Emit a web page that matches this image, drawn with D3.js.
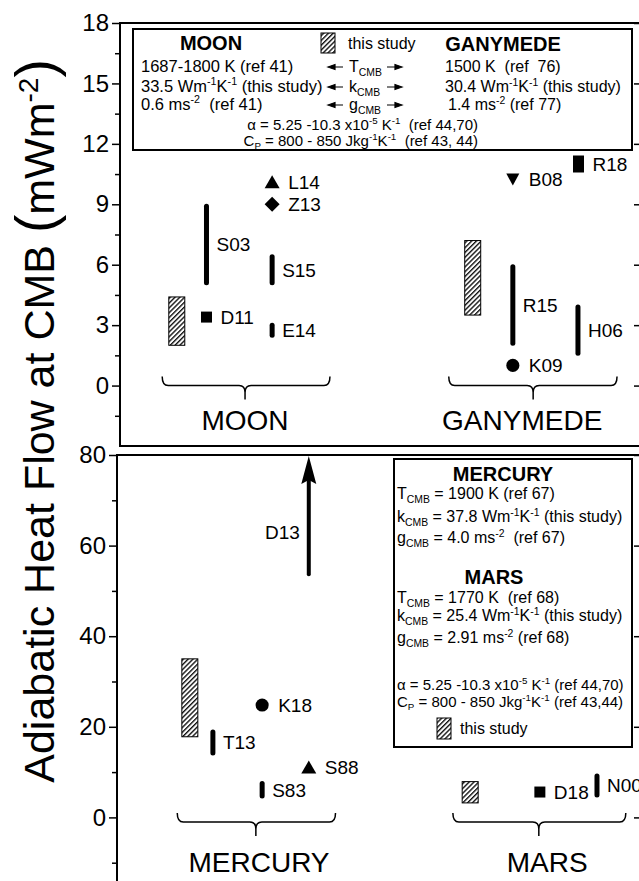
<!DOCTYPE html>
<html>
<head>
<meta charset="utf-8">
<script src="https://cdn.jsdelivr.net/npm/d3@7"></script>
<style>
body { margin: 0; background: #fff; }
svg text { font-family: "Liberation Sans", Arial, sans-serif; fill: #000; white-space: pre; }
</style>
</head>
<body>
<svg id="chart"></svg>
<script>
// Adiabatic heat flow at the CMB, two stacked panels
// x is in plot units (0-10 across each panel), y in mW/m^2

var topBodies = ["MOON", "GANYMEDE"];
var botBodies = ["MERCURY", "MARS"];

// hatched ranges (this study)
var studyBody = ["MOON", "GANYMEDE", "MERCURY", "MARS"];
var studyX    = [1.09, 6.77, 1.39, 6.74];
var studyLow  = [2.0, 3.5, 17.8, 3.2];
var studyHigh = [4.4, 7.2, 35.0, 7.9];

// published ranges, thick bars
var rangeRef  = ["S03", "S15", "E14", "R15", "H06", "T13", "S83", "N00"];
var rangeBody = ["MOON", "MOON", "MOON", "GANYMEDE", "GANYMEDE", "MERCURY", "MERCURY", "MARS"];
var rangeX    = [1.66, 2.92, 2.92, 7.54, 8.79, 1.83, 2.77, 9.16];
var rangeLow  = [5.0, 5.0, 2.4, 2.0, 1.5, 13.8, 4.3, 4.5];
var rangeHigh = [9.0, 6.5, 3.1, 6.0, 4.0, 19.3, 7.9, 9.6];

// single published values
var pointRef    = ["D11", "L14", "Z13", "K09", "B08", "R18", "K18", "S88", "D18"];
var pointBody   = ["MOON", "MOON", "MOON", "GANYMEDE", "GANYMEDE", "GANYMEDE", "MERCURY", "MERCURY", "MARS"];
var pointX      = [1.66, 2.92, 2.92, 7.54, 7.54, 8.80, 2.77, 3.66, 8.07];
var pointValue  = [3.4, 10.1, 9.0, 1.0, 10.25, 11.0, 24.8, 11.0, 5.6];
var pointSymbol = ["square", "triangle", "diamond", "circle", "triangleDown", "block", "circle", "triangle", "square"];

// lower bound only (arrow going off the top)
var boundRef  = ["D13"];
var boundBody = ["MERCURY"];
var boundX    = [3.66];
var boundLow  = [53.7];
var boundLabelY = [63];

// group braces + names
var braceBody  = ["MOON", "GANYMEDE", "MERCURY", "MARS"];
var braceFrom  = [0.81, 6.31, 1.15, 6.41];
var braceTo    = [4.03, 9.54, 4.17, 9.71];
var braceMid   = [2.40, 7.93, 2.65, 8.05];
var braceLevel = [0, 0, -1, -1];
var nameX      = [2.40, 7.72, 2.71, 8.21];
var nameY      = [-2.2, -2.2, -12, -12];

// ticks
var topTicks = [0, 3, 6, 9, 12, 15, 18];
var topMinor = [-1.5, 1.5, 4.5, 7.5, 10.5, 13.5, 16.5];
var botTicks = [0, 20, 40, 60, 80];
var botMinor = [-10, 10, 30, 50, 70];

// legend texts
var moonInfo = ["1687-1800 K (ref 41)", "33.5 Wm^{-1}K^{-1} (this study)", "0.6 ms^{-2}  (ref 41)"];
var ganyInfo = ["1500 K  (ref  76)", "30.4 Wm^{-1}K^{-1} (this study)", "1.4 ms^{-2} (ref 77)"];
var cmbNames = ["T_{CMB}", "k_{CMB}", "g_{CMB}"];
var topMaterial = ["α = 5.25 -10.3 x10^{-5} K^{-1}  (ref 44,70)", "C_{P} = 800 - 850 Jkg^{-1}K^{-1}  (ref 43, 44)"];
var mercuryInfo = ["T_{CMB} = 1900 K (ref 67)", "k_{CMB} = 37.8 Wm^{-1}K^{-1} (this study)", "g_{CMB} = 4.0 ms^{-2}  (ref 67)"];
var marsInfo = ["T_{CMB} = 1770 K  (ref 68)", "k_{CMB} = 25.4 Wm^{-1}K^{-1} (this study)", "g_{CMB} = 2.91 ms^{-2} (ref 68)"];
var botMaterial = ["α = 5.25 -10.3 x10^{-5} K^{-1} (ref 44,70)", "C_{P} = 800 - 850 Jkg^{-1}K^{-1} (ref 43,44)"];

var W = 639, H = 881;

var panels = [
    {bodies: topBodies, left: 120, right: 641, top: 23, bottom: 446, domain: [-3, 18], ticks: topTicks, minor: topMinor},
    {bodies: botBodies, left: 117, right: 641, top: 455, bottom: 908, domain: [-20, 80], ticks: botTicks, minor: botMinor}
];

var svg = d3.select("#chart").attr("width", W).attr("height", H);
svg.append("rect").attr("width", W).attr("height", H).attr("fill", "#fff");

var pat = svg.append("defs").append("pattern")
    .attr("id", "hatch")
    .attr("patternUnits", "userSpaceOnUse")
    .attr("width", 3.4).attr("height", 3.4)
    .attr("patternTransform", "rotate(45)");
pat.append("rect").attr("width", 3.4).attr("height", 3.4).attr("fill", "#fff");
pat.append("line").attr("x1", 0.7).attr("y1", 0).attr("x2", 0.7).attr("y2", 3.4)
    .attr("stroke", "#000").attr("stroke-width", 1.3);

// text with _{sub} and ^{sup}
function rich(textSel, str, fs) {
    var re = /([_^])\{([^}]*)\}/g, pos = 0, m, off = 0;
    textSel.style("font-size", fs + "px");
    function add(t, shift, small) {
        var ts = textSel.append("tspan").text(t);
        if (shift !== off) { ts.attr("dy", shift - off); off = shift; }
        if (small) ts.style("font-size", (fs * 0.65) + "px");
    }
    while ((m = re.exec(str)) !== null) {
        if (m.index > pos) add(str.slice(pos, m.index), 0, false);
        add(m[2], m[1] === "_" ? fs * 0.22 : -fs * 0.4, true);
        pos = re.lastIndex;
    }
    if (pos < str.length) add(str.slice(pos), 0, false);
}

function symbolPath(type) {
    if (type == "square") return "M-5.5,-5.5h11v11h-11z";
    if (type == "triangle") return "M0,-7L7.5,6H-7.5Z";
    if (type == "triangleDown") return "M0,6.5L6.5,-5.5H-6.5Z";
    if (type == "diamond") return "M0,-7.5L7.5,0L0,7.5L-7.5,0Z";
    if (type == "block") return "M-5.5,-8.5h11v17h-11z";
    return d3.symbol().type(d3.symbolCircle).size(135)();
}

function braceD(x0, x1, xm, y) {
    return "M" + x0 + "," + (y - 9) + " Q" + x0 + "," + y + " " + (x0 + 6) + "," + y +
        " L" + (xm - 6) + "," + y + " Q" + xm + "," + y + " " + xm + "," + (y + 7) +
        " L" + xm + "," + (y + 14) +
        " M" + xm + "," + (y + 7) + " Q" + xm + "," + y + " " + (xm + 6) + "," + y +
        " L" + (x1 - 6) + "," + y + " Q" + x1 + "," + y + " " + x1 + "," + (y - 9);
}

function idx(arr, bodies) {
    var out = [];
    arr.forEach(function(b, i) { if (bodies.indexOf(b) >= 0) out.push(i); });
    return out;
}

panels.forEach(function(p) {
    var x = d3.scaleLinear().domain([0, 10]).range([p.left, p.right]);
    var y = d3.scaleLinear().domain(p.domain).range([p.bottom, p.top]);
    var g = svg.append("g");

    // frame
    g.append("rect")
        .attr("x", p.left).attr("y", p.top)
        .attr("width", p.right - p.left).attr("height", p.bottom - p.top)
        .attr("fill", "none").attr("stroke", "#000").attr("stroke-width", 2);

    // left axis: minor then major
    var minorAx = g.append("g").attr("transform", "translate(" + p.left + ",0)")
        .call(d3.axisLeft(y).tickValues(p.minor).tickSize(5).tickFormat(""));
    var majorAx = g.append("g").attr("transform", "translate(" + p.left + ",0)")
        .call(d3.axisLeft(y).tickValues(p.ticks).tickSize(8).tickPadding(3));
    [minorAx, majorAx].forEach(function(a) {
        a.select(".domain").remove();
        a.selectAll("line").attr("stroke-width", 1.5);
    });
    majorAx.selectAll("text").style("font-size", "24px").attr("font-family", null);

    // right axis, inward major ticks
    var rightAx = g.append("g").attr("transform", "translate(" + p.right + ",0)")
        .call(d3.axisLeft(y).tickValues(p.ticks).tickSize(7).tickFormat(""));
    rightAx.select(".domain").remove();
    rightAx.selectAll("line").attr("stroke-width", 1.5);

    // braces + body names
    idx(braceBody, p.bodies).forEach(function(i) {
        g.append("path")
            .attr("d", braceD(x(braceFrom[i]), x(braceTo[i]), x(braceMid[i]), y(braceLevel[i])))
            .attr("fill", "none").attr("stroke", "#000").attr("stroke-width", 1.5);
        g.append("text")
            .attr("x", x(nameX[i])).attr("y", y(nameY[i]))
            .attr("text-anchor", "middle")
            .style("font-size", "28px")
            .text(braceBody[i]);
    });

    // hatched ranges
    idx(studyBody, p.bodies).forEach(function(i) {
        g.append("rect")
            .attr("x", x(studyX[i]) - 8).attr("width", 16)
            .attr("y", y(studyHigh[i])).attr("height", y(studyLow[i]) - y(studyHigh[i]))
            .attr("fill", "url(#hatch)").attr("stroke", "#000").attr("stroke-width", 1);
    });

    // range bars
    idx(rangeBody, p.bodies).forEach(function(i) {
        g.append("line")
            .attr("x1", x(rangeX[i])).attr("x2", x(rangeX[i]))
            .attr("y1", y(rangeLow[i]) - 2).attr("y2", y(rangeHigh[i]) + 2)
            .attr("stroke", "#000").attr("stroke-width", 5).attr("stroke-linecap", "round");
        g.append("text")
            .attr("x", x(rangeX[i]) + 10)
            .attr("y", y((rangeLow[i] + rangeHigh[i]) / 2)).attr("dy", "0.36em")
            .style("font-size", "19px")
            .text(rangeRef[i]);
    });

    // single values
    idx(pointBody, p.bodies).forEach(function(i) {
        g.append("path")
            .attr("transform", "translate(" + x(pointX[i]) + "," + y(pointValue[i]) + ")")
            .attr("d", symbolPath(pointSymbol[i]))
            .attr("fill", "#000");
        g.append("text")
            .attr("x", x(pointX[i]) + (pointSymbol[i] == "square" || pointSymbol[i] == "block" ? 14 : 16))
            .attr("y", y(pointValue[i])).attr("dy", "0.36em")
            .style("font-size", "19px")
            .text(pointRef[i]);
    });

    // lower bounds with arrow
    idx(boundBody, p.bodies).forEach(function(i) {
        var bx = x(boundX[i]), top = y(p.domain[1]);
        g.append("line")
            .attr("x1", bx).attr("x2", bx)
            .attr("y1", y(boundLow[i])).attr("y2", top + 24)
            .attr("stroke", "#000").attr("stroke-width", 4).attr("stroke-linecap", "round");
        g.append("path")
            .attr("d", "M" + bx + "," + (top + 1) + "L" + (bx + 7.5) + "," + (top + 29) +
                "L" + bx + "," + (top + 25) + "L" + (bx - 7.5) + "," + (top + 29) + "Z")
            .attr("fill", "#000");
        g.append("text")
            .attr("x", bx - 9).attr("y", y(boundLabelY[i])).attr("dy", "0.36em")
            .attr("text-anchor", "end")
            .style("font-size", "19px")
            .text(boundRef[i]);
    });
});

// top legend box
var lg = svg.append("g");
lg.append("rect").attr("x", 133).attr("y", 29).attr("width", 499).attr("height", 121)
    .attr("fill", "#fff").attr("stroke", "#000").attr("stroke-width", 2);
lg.append("text").attr("x", 211).attr("y", 50).attr("text-anchor", "middle")
    .style("font-size", "20px").style("font-weight", "bold").text("MOON");
lg.append("text").attr("x", 503).attr("y", 51).attr("text-anchor", "middle")
    .style("font-size", "20px").style("font-weight", "bold").text("GANYMEDE");
lg.append("rect").attr("x", 321).attr("y", 33).attr("width", 14).attr("height", 20)
    .attr("fill", "url(#hatch)").attr("stroke", "#000").attr("stroke-width", 1);
lg.append("text").attr("x", 348).attr("y", 49).style("font-size", "16px").text("this study");
var rowY = [72, 92, 110];
moonInfo.forEach(function(s, i) {
    rich(lg.append("text").attr("x", 141).attr("y", rowY[i]), s, 16.5);
});
ganyInfo.forEach(function(s, i) {
    rich(lg.append("text").attr("x", i == 2 ? 448 : 445).attr("y", rowY[i]), s, 16);
});
cmbNames.forEach(function(s, i) {
    rich(lg.append("text").attr("x", 349).attr("y", rowY[i]), s, 16);
    var ay = rowY[i] - 5;
    lg.append("path").attr("d", "M328," + ay + "L335," + (ay - 2.5) + "L335," + (ay + 2.5) + "Z M335," + ay + "L343," + ay)
        .attr("fill", "#000").attr("stroke", "#000").attr("stroke-width", 1.2);
    lg.append("path").attr("d", "M402," + ay + "L395," + (ay - 2.5) + "L395," + (ay + 2.5) + "Z M387," + ay + "L395," + ay)
        .attr("fill", "#000").attr("stroke", "#000").attr("stroke-width", 1.2);
});
topMaterial.forEach(function(s, i) {
    rich(lg.append("text").attr("x", 478).attr("y", [130, 146][i]).attr("text-anchor", "end"), s, 15);
});

// bottom legend box
var bg = svg.append("g");
bg.append("rect").attr("x", 394).attr("y", 459).attr("width", 238).attr("height", 288)
    .attr("fill", "#fff").attr("stroke", "#000").attr("stroke-width", 2);
bg.append("text").attr("x", 503).attr("y", 481).attr("text-anchor", "middle")
    .style("font-size", "20px").style("font-weight", "bold").text("MERCURY");
bg.append("text").attr("x", 494).attr("y", 584).attr("text-anchor", "middle")
    .style("font-size", "20px").style("font-weight", "bold").text("MARS");
var merY = [499, 522, 543], marY = [603, 621, 643], matY = [690, 707];
mercuryInfo.forEach(function(s, i) {
    rich(bg.append("text").attr("x", 397).attr("y", merY[i]), s, 16);
});
marsInfo.forEach(function(s, i) {
    rich(bg.append("text").attr("x", 397).attr("y", marY[i]), s, 16);
});
botMaterial.forEach(function(s, i) {
    rich(bg.append("text").attr("x", 397).attr("y", matY[i]), s, 15);
});
bg.append("rect").attr("x", 437).attr("y", 718).attr("width", 14).attr("height", 21)
    .attr("fill", "url(#hatch)").attr("stroke", "#000").attr("stroke-width", 1);
bg.append("text").attr("x", 460).attr("y", 734).style("font-size", "16px").text("this study");

// y title
var yt = svg.append("text")
    .attr("transform", "translate(54,421) rotate(-90)")
    .attr("text-anchor", "middle")
    .style("font-size", "43px");
yt.append("tspan").text("Adiabatic Heat Flow at CMB ");
yt.append("tspan").style("font-size", "55px").text("(");
yt.append("tspan").text("mWm");
yt.append("tspan").attr("dy", -16).style("font-size", "28px").text("-2");
yt.append("tspan").attr("dy", 16).style("font-size", "55px").text(")");
</script>
</body>
</html>
